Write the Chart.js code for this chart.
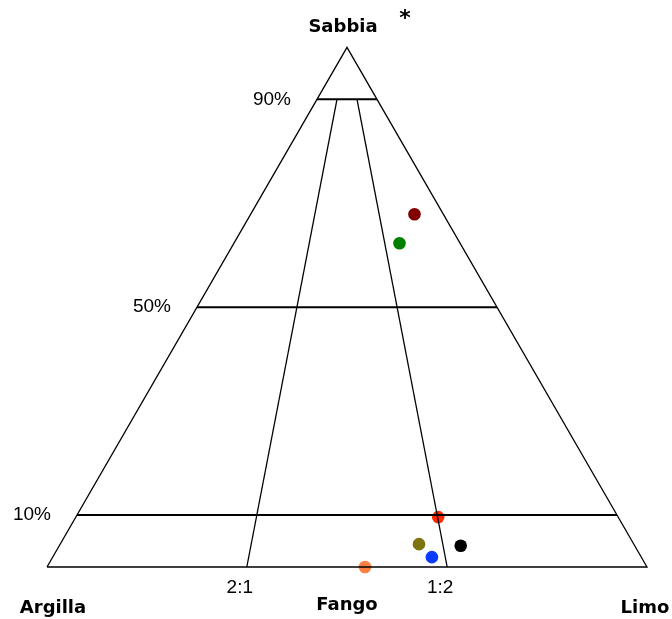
<!DOCTYPE html>
<html>
<head>
<meta charset="utf-8">
<script src="https://cdn.jsdelivr.net/npm/chart.js@4"></script>
<style>
html,body{margin:0;padding:0;background:#fff;}
#wrap{width:672px;height:619px;position:relative;}
</style>
</head>
<body>
<div id="wrap"><canvas id="c"></canvas></div>
<script>
// Corner (end-member) labels
const vertexLabels = ['Argilla', 'Limo', 'Sabbia'];
const middleLabel = 'Fango';
// Sand grid lines (fraction of sand) and their labels
const sandLevels = [0.1, 0.5, 0.9];
const sandLabels = ['10%', '50%', '90%'];
// Clay:silt ratio lines (clay share of the non-sand part) and labels
const ratioClayShare = [0.667, 0.333];
const ratioLabels = ['2:1', '1:2'];
// Samples: sand, silt, clay fractions and colours
const sampleSand = [0.679, 0.623, 0.096, 0.044, 0.019, 0.041, 0.000];
const sampleSilt = [0.273, 0.276, 0.604, 0.598, 0.632, 0.669, 0.530];
const sampleClay = [0.048, 0.101, 0.300, 0.358, 0.349, 0.290, 0.470];
const sampleColors = ['#800000', '#008000', '#ff2a00', '#7d7410', '#0a3cff', '#000000', '#ff8040'];

const H = Math.sqrt(3) / 2;
function tern(sand, silt) { return { x: silt + sand / 2, y: sand * H }; }

const datasets = [];
// triangle outline
datasets.push({ data: [tern(0, 0), tern(1, 0), tern(0, 1), tern(0, 0)], showLine: true, borderColor: '#000', borderWidth: 1.3, pointRadius: 0, fill: false, clip: false });
// sand level lines
sandLevels.forEach(s => {
  datasets.push({ data: [tern(s, 0), tern(s, 1 - s)], showLine: true, borderColor: '#000', borderWidth: 2, pointRadius: 0, clip: false });
});
// ratio lines from the base up to the 90% line
ratioClayShare.forEach(c => {
  const top = sandLevels[sandLevels.length - 1];
  datasets.push({ data: [tern(0, 1 - c), tern(top, (1 - top) * (1 - c))], showLine: true, borderColor: '#000', borderWidth: 1.3, pointRadius: 0, clip: false });
});
// samples
datasets.push({
  data: sampleSand.map((s, i) => tern(s, sampleSilt[i])),
  showLine: false, pointRadius: 6.3, pointHoverRadius: 6.3, pointBorderWidth: 0,
  pointBackgroundColor: sampleColors, pointBorderColor: sampleColors, clip: false
});

const labelPlugin = {
  id: 'labels',
  afterDatasetsDraw(chart) {
    const ctx = chart.ctx, xs = chart.scales.x, ys = chart.scales.y;
    const px = p => ({ x: xs.getPixelForValue(p.x), y: ys.getPixelForValue(p.y) });
    ctx.save();
    ctx.fillStyle = '#000';
    const bold = 'bold 18px "DejaVu Sans"';
    const norm = '19px "Liberation Sans"';
    // vertices
    ctx.font = bold; ctx.textBaseline = 'alphabetic';
    const a = px(tern(0, 0)), l = px(tern(0, 1)), s = px(tern(1, 0));
    ctx.textAlign = 'center';
    ctx.fillText(vertexLabels[0], a.x + 6, a.y + 46);
    ctx.fillText(vertexLabels[1], l.x - 2, l.y + 46);
    ctx.fillText(vertexLabels[2], s.x - 4, s.y - 15);
    const m = px(tern(0, 0.5));
    ctx.fillText(middleLabel, m.x, m.y + 43);
    ctx.font = 'bold 22px "DejaVu Sans"';
    ctx.fillText('*', s.x + 58, s.y - 22);
    // sand labels
    ctx.font = norm; ctx.textAlign = 'right'; ctx.textBaseline = 'middle';
    sandLevels.forEach((v, i) => {
      const p = px(tern(v, 0));
      ctx.fillText(sandLabels[i], p.x - 26, p.y);
    });
    // ratio labels
    ctx.textAlign = 'center';
    ratioClayShare.forEach((c, i) => {
      const p = px(tern(0, 1 - c));
      ctx.fillText(ratioLabels[i], p.x - 7, p.y + 21);
    });
    ctx.restore();
  }
};

new Chart(document.getElementById('c'), {
  type: 'scatter',
  data: { datasets },
  options: {
    responsive: true, maintainAspectRatio: false, animation: false,
    layout: { padding: 0, autoPadding: false },
    plugins: { legend: { display: false }, tooltip: { enabled: false } },
    scales: {
      x: { type: 'linear', display: false, min: -47 / 600, max: 625 / 600 },
      y: { type: 'linear', display: false, min: -52 / 600, max: 567 / 600 }
    }
  },
  plugins: [labelPlugin]
});
</script>
</body>
</html>
